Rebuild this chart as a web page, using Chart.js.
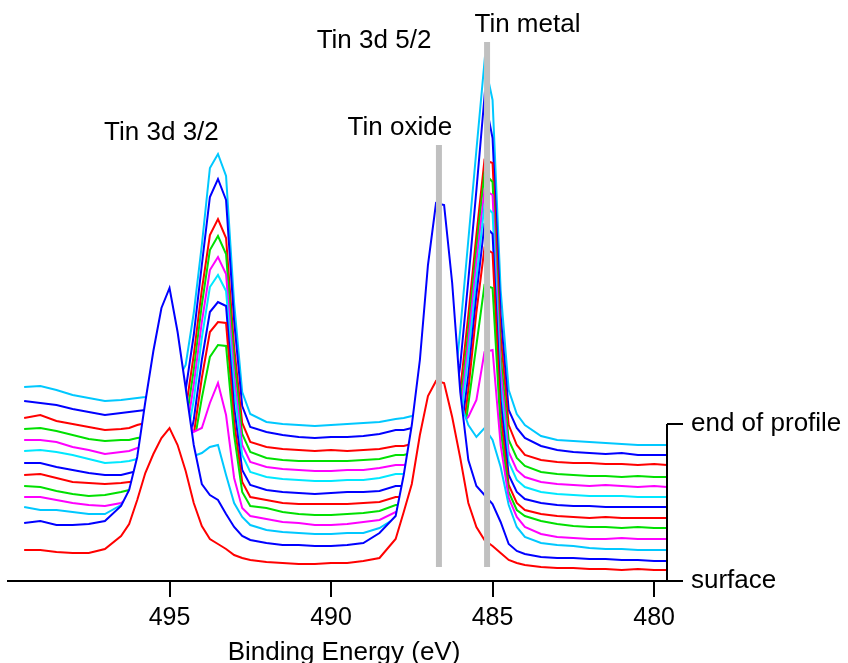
<!DOCTYPE html>
<html><head><meta charset="utf-8">
<style>html,body{margin:0;padding:0;overflow:hidden;background:#fff;}canvas{display:block;}</style>
<script src="https://cdn.jsdelivr.net/npm/chart.js@4.4.0/dist/chart.umd.min.js"></script>
</head><body>
<canvas id="c" width="848" height="680"></canvas>
<script>
// Binding energy grid (eV)
const bindingEnergy = [499.5,499,498.5,498,497.5,497,496.5,
  496.25,496,495.75,495.5,495.25,495,494.75,494.5,494.25,494,493.75,493.5,493.25,493,492.75,492.5,
  492,491.5,491,490.5,490,489.5,489,488.5,488,
  487.75,487.5,487.25,487,486.75,486.5,486.25,486,485.75,485.5,485.25,485,484.75,484.5,484.25,484,
  483.5,483,482.5,482,481.5,481,480.5,480,479.6];

// Offset spectra (counts, a.u.), from surface (01) to end of profile (13)
const profile01 = [31,31,29,28,28,32,45, 57,81,108,127,143,153,136,110,78,55,42,37,32,26,23,21, 19,18,17,17,18,18,20,23,42, 69,97,146,185,200,198,164,123,78,54,41,35,28,21,18,16, 14,13,13,12,12,11,12,11,11];
const profile02 = [58,60,56,56,57,60,75, 91,124,179,230,273,293,249,193,136,97,86,81,67,54,45,41, 38,36,36,35,35,36,38,48,65, 106,156,221,316,378,376,298,189,121,95,86,77,59,37,30,27, 24,23,23,22,22,21,21,20,20];
const profile03 = [74,71,71,69,67,67,76, 86,101,121,141,156,161,151,136,125,128,134,136,106,78,64,56, 51,49,48,47,47,48,48,53,63, 76,91,121,151,171,181,186,179,156,144,153,141,114,76,54,44, 38,36,35,33,32,32,31,31,31];
const profile04 = [84,84,81,78,76,75,78, 84,91,111,131,146,156,166,166,149,153,178,198,166,103,73,65, 62,59,58,56,56,57,59,61,69, 69,71,73,76,81,91,131,156,164,181,229,231,136,83,64,54, 47,44,43,42,42,43,42,42,42];
const profile05 = [95,94,90,87,85,86,89, 91,93,94,95,97,99,101,105,136,183,224,236,235,146,89,75, 73,69,67,66,66,67,68,70,76, 76,78,80,82,84,85,86,117,177,236,296,293,151,89,71,65, 60,57,55,54,54,53,54,53,53];
const profile06 = [106,107,103,99,98,97,98, 99,100,101,102,104,106,109,113,146,203,249,259,258,159,99,84, 81,78,77,77,77,77,78,79,84, 84,86,88,90,91,92,93,126,191,269,333,328,166,96,78,71, 67,65,64,63,64,63,63,63,63];
const profile07 = [118,118,114,111,108,106,106, 108,110,111,112,114,116,119,123,161,221,269,279,275,174,111,96, 91,89,88,87,88,89,89,90,95, 95,97,99,101,102,103,104,141,206,286,356,347,181,106,89,82, 78,76,75,75,74,74,74,74,74];
const profile08 = [130,131,129,126,122,118,119, 120,122,123,124,126,128,131,135,181,243,294,306,290,193,126,109, 104,102,101,100,100,101,101,103,107, 107,109,111,113,114,115,116,156,226,303,376,368,196,119,101,94, 89,87,86,85,85,85,84,84,84];
const profile09 = [141,141,139,134,131,127,129, 130,133,134,135,137,139,141,144,196,259,311,324,307,206,136,119, 114,112,111,110,110,111,111,113,116, 116,118,120,122,123,124,125,166,239,319,391,386,211,129,111,104, 99,97,96,95,96,95,94,95,94];
const profile10 = [152,153,150,146,142,140,141, 141,143,144,145,147,149,151,156,211,276,331,345,327,221,147,129, 123,121,120,120,120,120,121,122,126, 126,128,130,132,133,134,135,176,251,333,408,399,226,141,123,115, 109,107,106,105,105,104,105,104,104];
const profile11 = [163,166,160,157,154,151,152, 153,156,158,159,161,163,166,171,226,291,346,362,343,234,158,139, 134,132,131,130,131,130,131,132,135, 135,137,139,141,143,144,145,191,266,346,421,418,246,156,136,126, 121,119,118,118,117,117,116,117,116];
const profile12 = [180,178,176,172,169,166,168, 169,170,171,172,175,179,183,191,246,316,384,402,381,260,175,154, 149,146,144,143,144,144,145,147,151, 151,153,156,158,159,159,159,216,301,391,484,443,266,171,153,143, 135,131,129,128,127,128,126,126,126];
const profile13 = [194,195,191,186,183,180,181, 182,183,184,186,189,193,201,216,268,336,413,427,405,278,189,167, 159,157,156,155,156,157,158,159,162, 163,165,168,170,171,171,171,251,341,431,519,481,291,191,167,156, 145,141,140,139,138,137,136,136,136];

const profileColors = ['#ff0000','#0000ff','#00c8ff','#ff00ff','#00e000','#ff0000','#0000ff','#00e8ff','#ff00ff','#00e000','#ff0000','#0000ff','#00c8ff'];

const xTickValues = [480, 485, 490, 495];
const depthTickValues = [0, 157];
const depthTickLabels = ['surface', 'end of profile'];

// Reference lines (eV) and their extent (counts)
const oxideLineEnergy = 486.66, metalLineEnergy = 485.17;
const refLineBottom = 14, oxideLineTop = 436, metalLineTop = 539;

const peakLabels = ['Tin 3d 3/2', 'Tin 3d 5/2', 'Tin oxide', 'Tin metal'];
const peakLabelEnergy = [495.25, 488.67, 487.87, 483.92];
const peakLabelLevel = [441, 533, 446, 549];

const profiles = [profile01,profile02,profile03,profile04,profile05,profile06,profile07,profile08,profile09,profile10,profile11,profile12,profile13];

const FONT = '"Liberation Sans", Arial, Helvetica, sans-serif';

const datasets = profiles.map((vals, i) => ({
  label: 'Profile ' + (i + 1),
  data: vals.map((v, j) => ({x: bindingEnergy[j], y: v})),
  borderColor: profileColors[i],
  backgroundColor: '#ffffff',
  borderWidth: 2,
  pointRadius: 0,
  tension: 0,
  fill: {value: 3},
  order: 10 + i,
  yAxisID: 'y'
}));

datasets.push({
  label: 'oxide', data: [{x: oxideLineEnergy, y: refLineBottom}, {x: oxideLineEnergy, y: oxideLineTop}],
  borderColor: '#c0c0c0', borderWidth: 6, borderCapStyle: 'butt', pointRadius: 0, fill: false, order: 2, yAxisID: 'y'
});
datasets.push({
  label: 'metal', data: [{x: metalLineEnergy, y: refLineBottom}, {x: metalLineEnergy, y: metalLineTop}],
  borderColor: '#c0c0c0', borderWidth: 6, borderCapStyle: 'butt', pointRadius: 0, fill: false, order: 2, yAxisID: 'y'
});
datasets.push({
  label: 'depth axis', data: [{x: 479.6, y: depthTickValues[0]}, {x: 479.6, y: depthTickValues[1]}],
  borderColor: '#000000', borderWidth: 2, pointRadius: 0, fill: false, order: 1, clip: false, yAxisID: 'y'
});

const labelPlugin = {
  id: 'peakLabels',
  afterDatasetsDraw(chart) {
    const {ctx, scales: {x, y}} = chart;
    ctx.save();
    ctx.font = '26px ' + FONT;
    ctx.fillStyle = '#000';
    ctx.textAlign = 'center';
    ctx.textBaseline = 'alphabetic';
    peakLabels.forEach((t, i) => ctx.fillText(t, x.getPixelForValue(peakLabelEnergy[i]), y.getPixelForValue(peakLabelLevel[i])));
    ctx.restore();
  }
};

const noPad = s => { s.paddingTop = 0; s.paddingBottom = 0; s.paddingLeft = 0; s.paddingRight = 0; };

new Chart(document.getElementById('c'), {
  type: 'line',
  data: {datasets},
  plugins: [labelPlugin],
  options: {
    responsive: false,
    animation: false,
    devicePixelRatio: 1,
    layout: {padding: {left: 8, top: 0, right: 0, bottom: 0}},
    plugins: {legend: {display: false}, tooltip: {enabled: false}, filler: {drawTime: 'beforeDatasetDraw'}},
    scales: {
      x: {
        type: 'linear', reverse: true, min: 479.6, max: 500,
        afterBuildTicks: s => { s.ticks = xTickValues.map(v => ({value: v})); },
        afterFit: s => { s.height = 99; noPad(s); },
        grid: {display: true, drawOnChartArea: false, drawTicks: true, tickLength: 16, tickWidth: 2, tickColor: '#000', color: '#000', lineWidth: 2},
        border: {display: true, color: '#000', width: 2},
        ticks: {autoSkip: false, maxRotation: 0, padding: 6, color: '#000', font: {family: FONT, size: 25}},
        title: {display: true, text: '\u2002Binding Energy (eV)', color: '#000', font: {family: FONT, size: 26}, padding: {top: 0, bottom: 12}}
      },
      y: {type: 'linear', display: false, min: 0, max: 581},
      yr: {
        type: 'linear', position: 'right', min: 0, max: 581,
        afterBuildTicks: s => { s.ticks = depthTickValues.map(v => ({value: v})); },
        afterFit: s => { s.width = 181; noPad(s); },
        grid: {display: true, drawOnChartArea: false, drawTicks: true, tickLength: 16, tickWidth: 2, tickColor: '#000', color: '#000', lineWidth: 2},
        border: {display: false},
        ticks: {autoSkip: false, padding: 8, color: '#000', font: {family: FONT, size: 26},
          callback: (v) => { const k = depthTickValues.indexOf(v); return k >= 0 ? depthTickLabels[k] : ''; }}
      }
    }
  }
});
</script>
</body></html>
